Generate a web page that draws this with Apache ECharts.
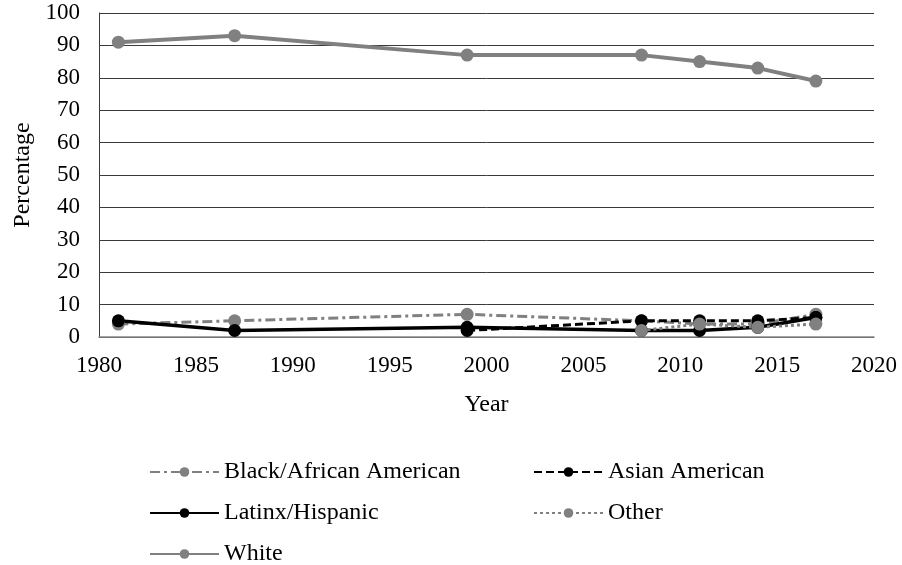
<!DOCTYPE html>
<html>
<head>
<meta charset="utf-8">
<script src="https://cdn.jsdelivr.net/npm/echarts@6/dist/echarts.min.js"></script>
<style>
  html, body { margin: 0; padding: 0; background: #fff; }
  #chart { width: 902px; height: 565px; }
</style>
</head>
<body>
<div id="chart"></div>
<script>
// Survey years and share (%) of each group
const years = [1981, 1987, 1999, 2008, 2011, 2014, 2017];
const black  = [4, 5, 7, 5, 4, 4, 7];
const asian  = [null, null, 2, 5, 5, 5, 6];
const latinx = [5, 2, 3, 2, 2, 3, 6];
const other  = [null, null, null, 2, 4, 3, 4];
const white  = [91, 93, 87, 87, 85, 83, 79];

const seriesNames = ['Black/African American', 'Asian American', 'Latinx/Hispanic', 'Other', 'White'];
const xTicks = { min: 1980, max: 2020, step: 5 };
const yTicks = { min: 0, max: 100, step: 10 };

const FONT = '"Liberation Serif", "Times New Roman", serif';
const GREY = '#808080';
const BLACK = '#000000';

function pairs(vals) {
  return years.map((y, i) => [y, vals[i]]).filter(p => p[1] !== null);
}

function lineSeries(name, vals, color, width, type) {
  return {
    name: name,
    type: 'line',
    data: pairs(vals),
    symbol: 'circle',
    symbolSize: 13,
    itemStyle: { color: color },
    lineStyle: { color: color, width: width, type: type },
    emphasis: { disabled: true },
    animation: false
  };
}

const series = [
  lineSeries(seriesNames[0], black, GREY, 3, [10, 4, 3, 4]),
  lineSeries(seriesNames[1], asian, BLACK, 3, [8, 4]),
  lineSeries(seriesNames[2], latinx, BLACK, 3.5, 'solid'),
  lineSeries(seriesNames[3], other, GREY, 3, [3, 3]),
  lineSeries(seriesNames[4], white, GREY, 4, 'solid')
];

// two-column legend, one block per entry
const legendPos = [
  { left: 144, top: 455 },
  { left: 528, top: 455 },
  { left: 144, top: 496 },
  { left: 528, top: 496 },
  { left: 144, top: 537 }
];

const legends = seriesNames.map((n, i) => ({
  data: [n],
  left: legendPos[i].left,
  top: legendPos[i].top,
  itemWidth: 69,
  itemHeight: 12,
  selectedMode: false,
  textStyle: { fontFamily: FONT, fontSize: 24, color: '#000' }
}));

const chart = echarts.init(document.getElementById('chart'), null, { renderer: 'canvas' });
chart.setOption({
  backgroundColor: '#fff',
  animation: false,
  legend: legends,
  grid: { left: 99, right: 28, top: 13, bottom: 228, containLabel: false },
  xAxis: {
    type: 'value',
    min: xTicks.min, max: xTicks.max, interval: xTicks.step,
    name: 'Year',
    nameLocation: 'middle',
    nameGap: 56,
    nameTextStyle: { fontFamily: FONT, fontSize: 24, color: '#000' },
    axisLine: { show: true, lineStyle: { color: '#868686', width: 1.5 } },
    axisTick: { show: false },
    splitLine: { show: false },
    axisLabel: { fontFamily: FONT, fontSize: 23, color: '#000', margin: 17, formatter: v => String(v) }
  },
  yAxis: {
    type: 'value',
    min: yTicks.min, max: yTicks.max, interval: yTicks.step,
    name: 'Percentage',
    nameLocation: 'middle',
    nameGap: 50,
    nameTextStyle: { fontFamily: FONT, fontSize: 24, color: '#000' },
    axisLine: { show: true, lineStyle: { color: '#3a3a3a', width: 1 } },
    axisTick: { show: false },
    splitLine: { show: true, lineStyle: { color: '#3a3a3a', width: 1 } },
    axisLabel: { fontFamily: FONT, fontSize: 23, color: '#000', margin: 19 }
  },
  series: series
});
</script>
</body>
</html>
